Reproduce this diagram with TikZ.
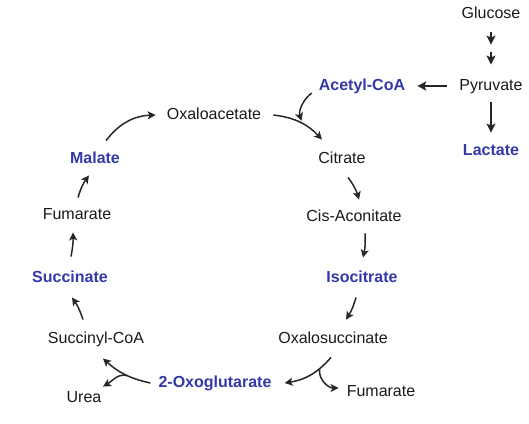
\documentclass[tikz,border=0pt]{standalone}
\usepackage{fontspec}
\setmainfont{Liberation Sans}
\usetikzlibrary{arrows.meta}
\definecolor{krebsblue}{RGB}{51,57,168}
\begin{document}
\begin{tikzpicture}[x=1pt,y=1pt,
  lbl/.style={inner sep=0pt,text height=11.5pt,text depth=3pt,
    font=\fontsize{16}{19}\selectfont,text=black!90},
  key/.style={lbl,font=\fontsize{16}{19}\selectfont\bfseries,text=krebsblue},
  arr/.style={line width=1.5pt,black!85,
    -{Stealth[length=8pt,width=8pt,inset=2pt]}},
  bigarr/.style={line width=2.4pt,black!85,
    -{Stealth[length=9pt,width=9pt,inset=2pt]}}]
\useasboundingbox (0,0) rectangle (529,-423);
            \draw (491,-14) node[lbl] (glu) {Glucose};
            \draw (491,-86) node[lbl] (pyr) {Pyruvate};
            \draw (362,-86) node[key] (acoa) {Acetyl-CoA};
            \draw (491,-151) node[key] (lac) {Lactate};
            \draw (214,-115) node[lbl] (oxa) {Oxaloacetate};
            \draw (342,-159) node[lbl] (cit) {Citrate};
            \draw (354,-217) node[lbl] (cis) {Cis-Aconitate};
            \draw (362,-278) node[key] (iso) {Isocitrate};
            \draw (333,-339) node[lbl] (oxs) {Oxalosuccinate};
            \draw (381,-392) node[lbl] (fumr) {Fumarate};
            \draw (215,-383) node[key] (oxg) {2-Oxoglutarate};
            \draw (84,-398) node[lbl] (urea) {Urea};
            \draw (96,-339) node[lbl] (scoa) {Succinyl-CoA};
            \draw (70,-278) node[key] (suc) {Succinate};
            \draw (77,-215) node[lbl] (fuml) {Fumarate};
            \draw (95,-159) node[key] (mal) {Malate};
            \draw[bigarr] ([yshift=-11pt]glu.south) -- ([yshift=34pt]pyr.north);
            \draw[bigarr] ([yshift=-31pt]glu.south) -- ([yshift=14pt]pyr.north);
            \draw[bigarr] ([xshift=-12pt]pyr.west) -- ([xshift=12pt]acoa.east);
            \draw[bigarr] ([yshift=-9pt]pyr.south) -- ([yshift=11pt]lac.north);
            \draw[arr] ([xshift=12pt]oxa.east) to[bend left=20]
              coordinate[pos=.55] (join) ([xshift=-20pt,yshift=12pt]cit.north);
            \draw[arr,shorten >=3pt] ([xshift=-7pt,yshift=-7pt]acoa.west)
              to[bend right=35] (join);
            \draw[arr] ([xshift=6pt,yshift=-11pt]cit.south) to[bend left=10]
              ([xshift=5pt,yshift=10pt]cis.north);
            \draw[arr] ([xshift=11pt,yshift=-9pt]cis.south) to[bend left=8]
              ([xshift=1pt,yshift=13pt]iso.north);
            \draw[arr] ([xshift=-6pt,yshift=-12pt]iso.south) to[bend left=8]
              ([xshift=13pt,yshift=12pt]oxs.north);
            \draw[arr] ([xshift=-2pt,yshift=-11pt]oxs.south) to[bend left=20]
              coordinate[pos=.28] (fb) ([xshift=13pt]oxg.east);
            \draw[arr] (fb) to[out=-100,in=180] ([xshift=-8pt,yshift=4pt]fumr.west);
            \draw[arr] ([xshift=-8pt]oxg.west) to[bend left=15]
              coordinate[pos=.45] (ub) ([xshift=7pt,yshift=-12pt]scoa.south);
            \draw[arr] (ub) to[out=170,in=30] ([xshift=19pt,yshift=4pt]urea.north);
            \draw[arr] ([xshift=-13pt,yshift=12pt]scoa.north) to[bend right=8]
              ([xshift=2pt,yshift=-12pt]suc.south);
            \draw[arr] ([xshift=1pt,yshift=14pt]suc.north) to[bend right=6]
              ([xshift=-4pt,yshift=-10pt]fuml.south);
            \draw[arr] ([xshift=1pt,yshift=10pt]fuml.north) to[bend left=10]
              ([xshift=-6pt,yshift=-9pt]mal.south);
            \draw[arr] ([xshift=11pt,yshift=11pt]mal.north) to[bend left=25]
              ([xshift=-11pt]oxa.west);
\end{tikzpicture}
\end{document}
